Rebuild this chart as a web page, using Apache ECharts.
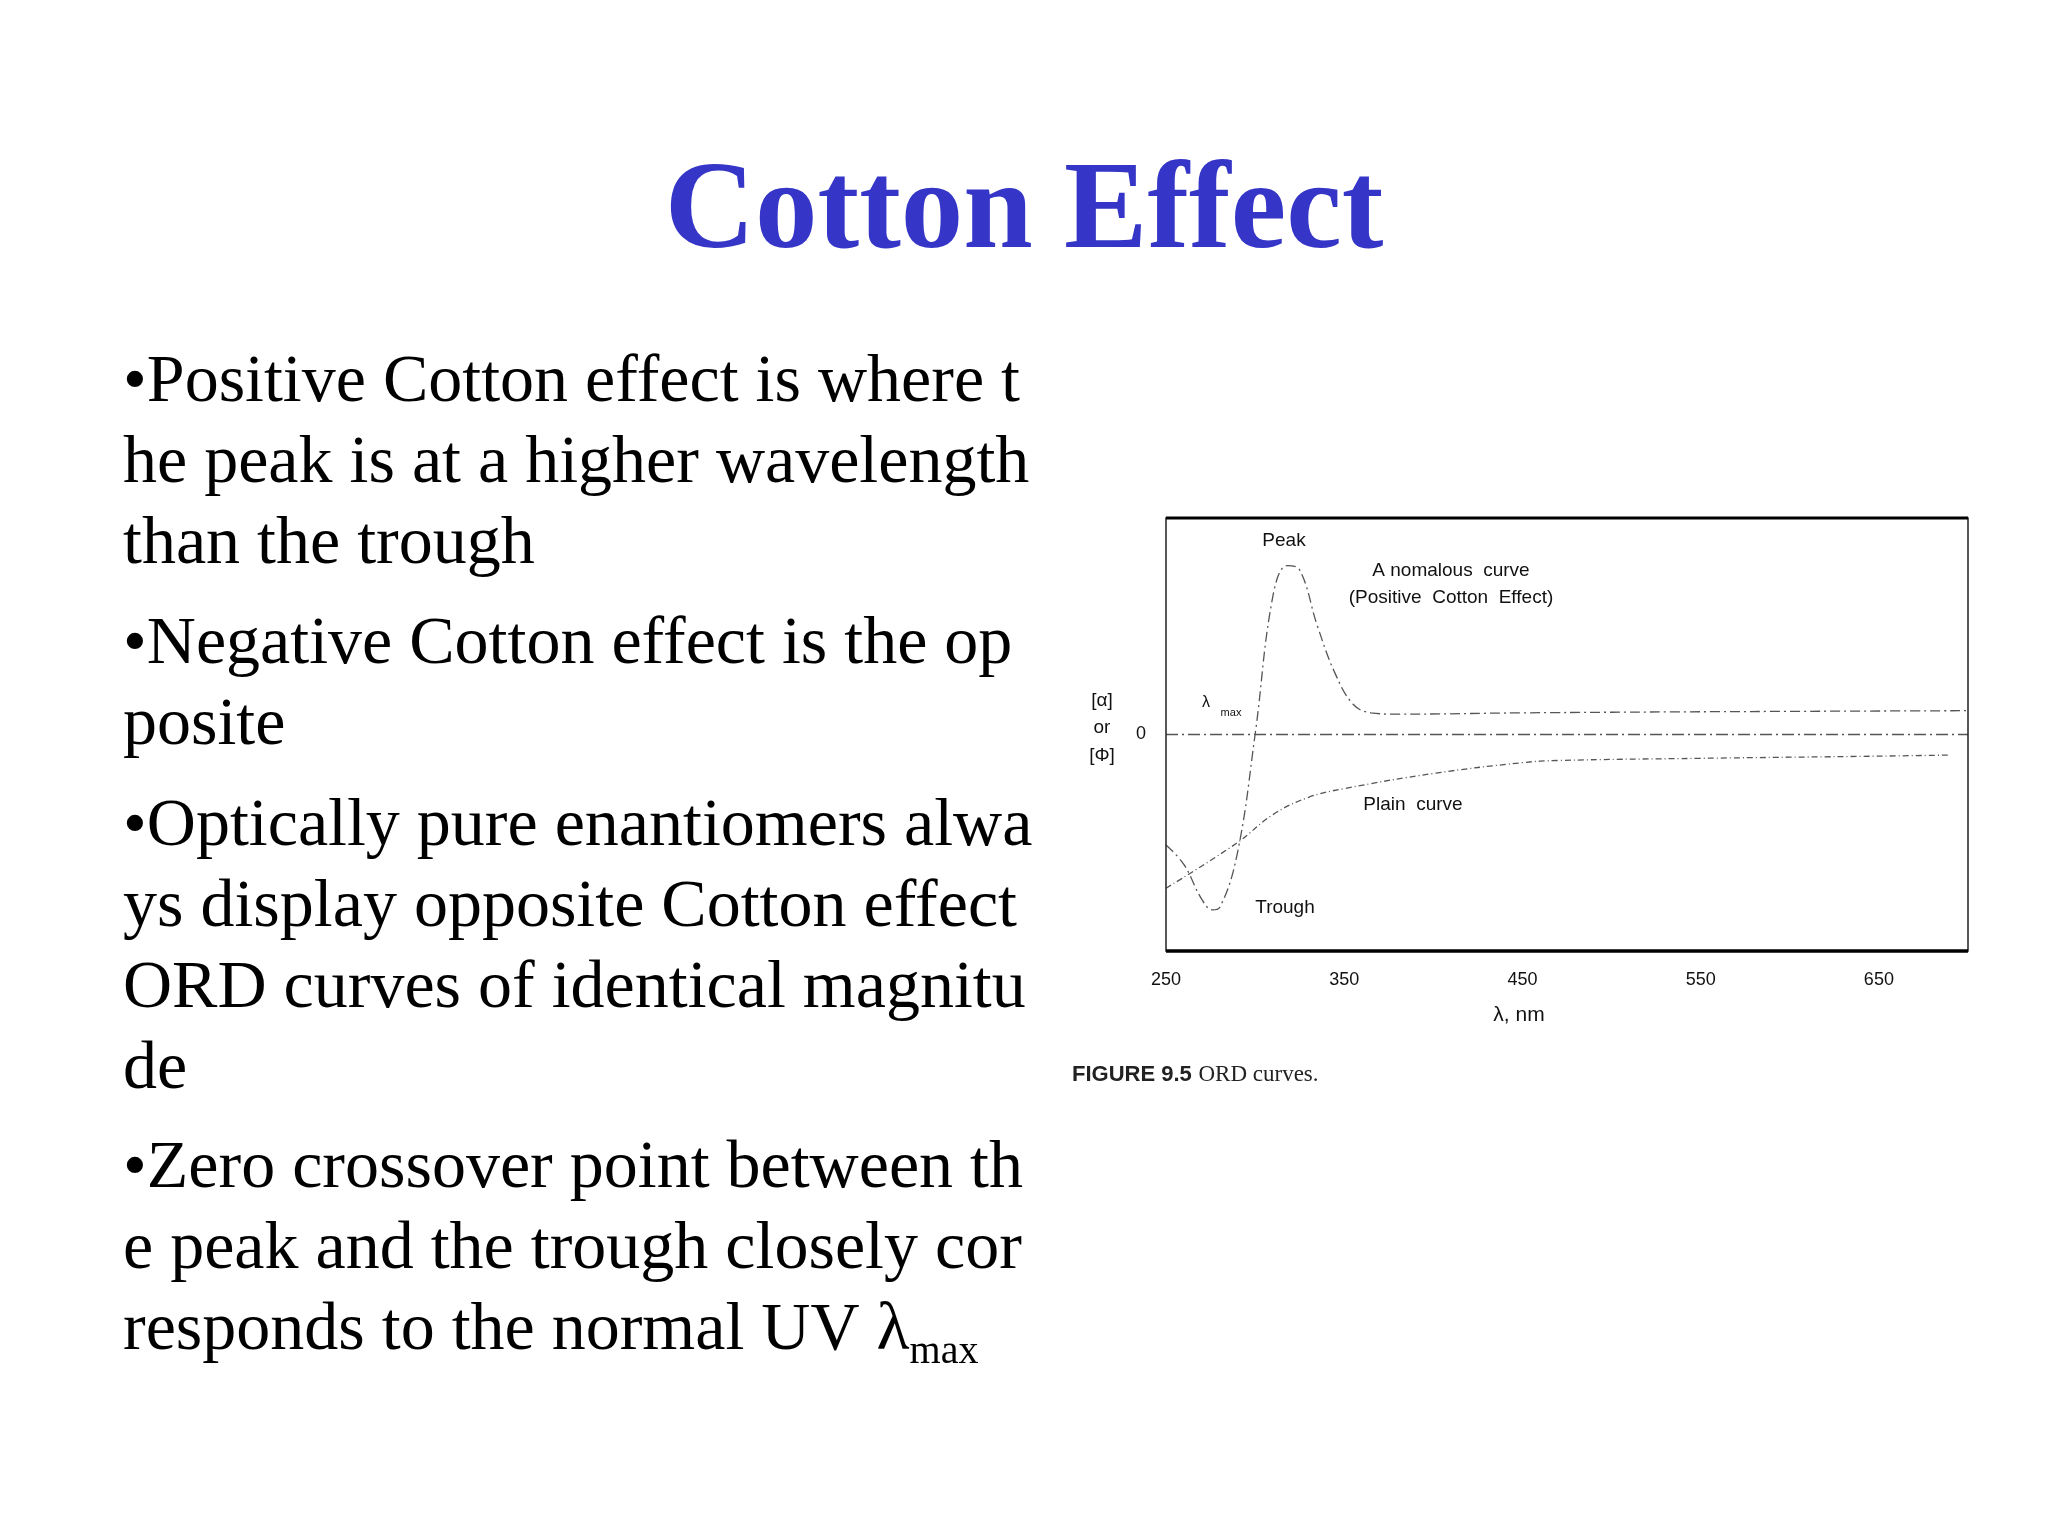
<!DOCTYPE html><html><head><meta charset="utf-8">
<script src="https://cdn.jsdelivr.net/npm/echarts@6/dist/echarts.min.js"></script>
<style>html,body{margin:0;background:#fff}#c{width:2048px;height:1536px}</style></head><body><div id="c"></div>
<script>
const xTicks = [250, 350, 450, 550, 650];
const anomalous = [[250,-0.51],[260,-0.6],[270,-0.76],[276,-0.81],[280,-0.8],[290,-0.55],[300,0],[310,0.64],[318,0.78],[325,0.76],[335,0.5],[345,0.28],[355,0.14],[365,0.1],[380,0.094],[450,0.1],[550,0.105],[700,0.11]];
const plain = [[250,-0.71],[290,-0.5],[310,-0.37],[330,-0.29],[350,-0.25],[400,-0.18],[450,-0.13],[470,-0.12],[550,-0.11],[650,-0.1],[690,-0.095]];
const zeroLine = [[250,0],[700,0]];
const bullets = [
 ['•Positive Cotton effect is where t','he peak is at a higher wavelength','than the trough'],
 ['•Negative Cotton effect is the op','posite'],
 ['•Optically pure enantiomers alwa','ys display opposite Cotton effect','ORD curves of identical magnitu','de'],
 ['•Zero crossover point between th','e peak and the trough closely cor','responds to the normal UV {l|λ}{s|max}']
];
const G = {left:1166, top:518, w:802, h:433};
const chart = echarts.init(document.getElementById('c'));
const gfx = [];
gfx.push({type:'text',left:'center',top:152,style:{text:'Cotton Effect',font:'bold 125px "Liberation Serif"',fill:'#3535C8'}});
const starts=[383,645,827,1169];
bullets.forEach((b,i)=>{b.forEach((line,j)=>{
  gfx.push({type:'text',x:123,y:starts[i]+j*81,style:{text:line,font:'68px "Liberation Serif"',fill:'#000',verticalAlign:'middle',
   rich:{l:{font:'68px "Liberation Serif"'},s:{font:'40px "Liberation Serif"',padding:[42,0,0,0]}}}});
});});
const lab=(t,x,y,sz,al)=>gfx.push({type:'text',x:x,y:y,style:{text:t,font:(sz||19)+'px "Liberation Sans"',fill:'#111',align:al||'center',verticalAlign:'middle'}});
lab('Peak',1284,541);
lab('A nomalous  curve',1451,571);
lab('(Positive  Cotton  Effect)',1451,598);
lab('Plain  curve',1413,805);
lab('Trough',1285,908);
lab('λ',1206,703,16);
lab('max',1231,713,11);
lab('[α]',1102,701);
lab('or',1102,728);
lab('[Φ]',1102,756);
lab('λ, nm',1519,1015,21);
gfx.push({type:'text',x:1072,y:1075,style:{text:'{b|FIGURE 9.5}  {n|ORD curves.}',verticalAlign:'middle',rich:{b:{font:'bold 22px "Liberation Sans Narrow", "Liberation Sans"',fill:'#222'},n:{font:'23px "Liberation Serif"',fill:'#222'}}}});
gfx.push({type:'rect',shape:{x:G.left,y:G.top,width:G.w,height:G.h},style:{fill:'none',stroke:'#222',lineWidth:1.5},z:10});
gfx.push({type:'line',shape:{x1:G.left,y1:G.top,x2:G.left+G.w,y2:G.top},style:{stroke:'#000',lineWidth:3},z:10});
gfx.push({type:'line',shape:{x1:G.left,y1:G.top+G.h,x2:G.left+G.w,y2:G.top+G.h},style:{stroke:'#000',lineWidth:3.5},z:10});
const ls={color:'#555',width:1.3};
chart.setOption({
 animation:false,
 grid:{left:G.left,top:G.top,width:G.w,height:G.h},
 xAxis:{type:'value',min:250,max:700,interval:50,axisLine:{show:false},axisTick:{show:false},splitLine:{show:false},
   axisLabel:{margin:20,fontSize:18,color:'#111',fontFamily:'Liberation Sans',formatter:v=>xTicks.includes(v)?String(v):''}},
 yAxis:{type:'value',min:-1,max:1,interval:1,axisLine:{show:false},axisTick:{show:false},splitLine:{show:false},
   axisLabel:{margin:20,fontSize:18,color:'#111',fontFamily:'Liberation Sans',formatter:v=>v===0?'0':''}},
 series:[
  {type:'line',data:anomalous,smooth:0.4,symbol:'none',lineStyle:Object.assign({type:[10,4,2,4]},ls)},
  {type:'line',data:plain,smooth:0.4,symbol:'none',lineStyle:Object.assign({type:[6,3,1,3]},ls)},
  {type:'line',data:zeroLine,symbol:'none',lineStyle:Object.assign({type:[12,4,2,4]},ls)}
 ],
 graphic:gfx
});
</script></body></html>
